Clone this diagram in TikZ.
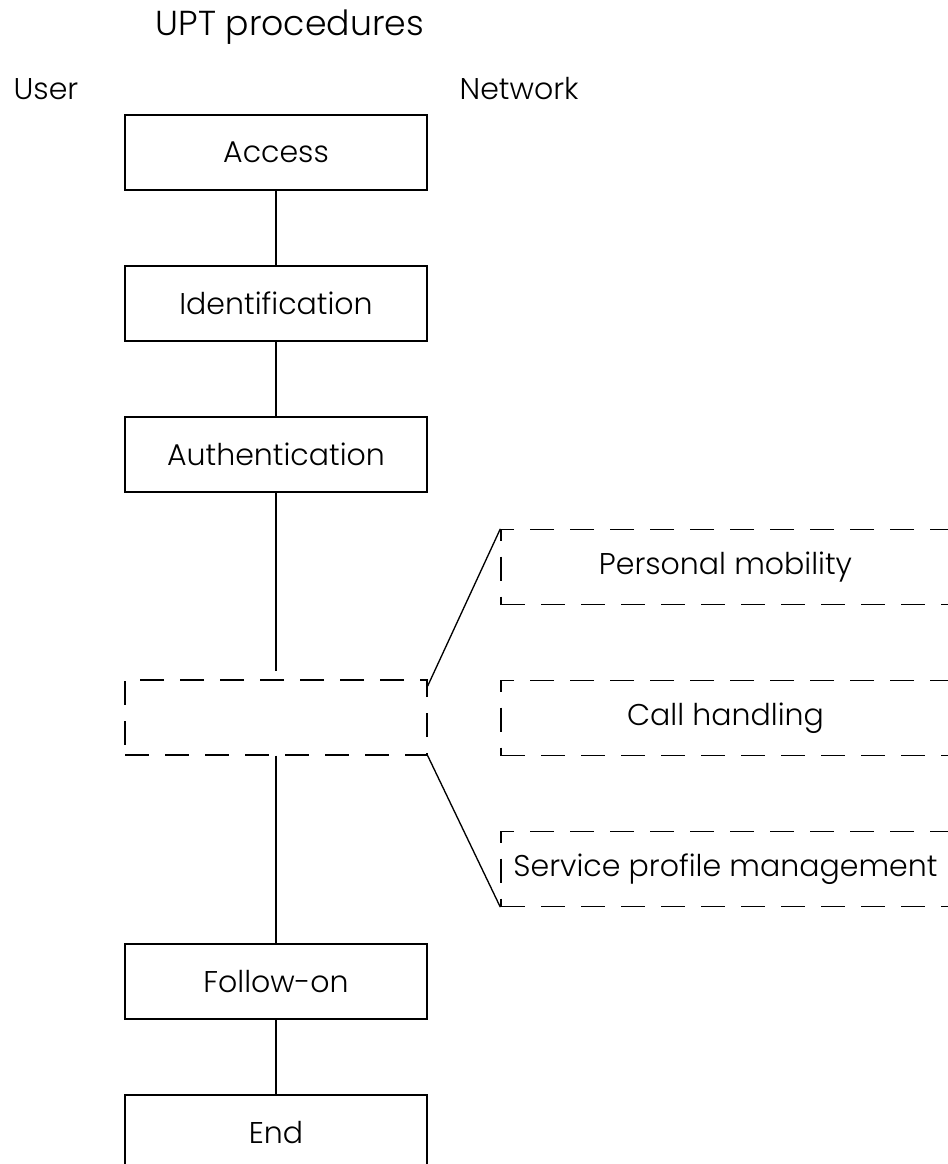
\documentclass[tikz,border=0pt]{standalone}
\usepackage{fontspec}
\setmainfont{Poppins}[UprightFont=* Light]

\begin{document}
\begin{tikzpicture}[x=0.75pt, y=-0.75pt, line width=1pt,
    font=\fontsize{22.5}{27}\selectfont,
    box/.style={draw, minimum width=226.5pt, minimum height=56.25pt, inner sep=0pt},
    dbox/.style={box, dash pattern=on 18pt off 12pt},
    lbl/.style={anchor=base west, inner sep=0pt}]
            \useasboundingbox (0,0) rectangle (947,1164);

            \node[lbl, font=\fontsize{26}{31}\selectfont] (T) at (155,35) {UPT procedures};
            \node[lbl] (U) at (13,99) {User};
            \node[lbl] (N) at (459,99) {Network};

            \node[box] (Acc) at (276,152.5) {Access};
            \node[box] (Id) at (276,303.5) {Identification};
            \node[box] (Auth) at (276,454.5) {Authentication};
            \node[dbox] (Mid) at (276,717.5) {};
            \node[box] (Fol) at (276,981.5) {Follow-on};
            \node[box] (End) at (276,1132.5) {End};

            \node[dbox, minimum width=336.75pt] (PM) at (725.5,567) {Personal mobility};
            \node[dbox, minimum width=336.75pt] (CH) at (725.5,718) {Call handling};
            \node[dbox, minimum width=336.75pt] (SPM) at (725.5,869) {Service profile management};

            \draw (Acc) -- (Id);
            \draw (Id) -- (Auth);
            \draw[shorten >=6pt] (Auth) -- (Mid);
            \draw (Mid) -- (Fol);
            \draw (Fol) -- (End);
            \draw ([yshift=-5pt]Mid.north east) -- (PM.north west);
            \draw (Mid.south east) -- (SPM.south west);
        \end{tikzpicture}
\end{document}
